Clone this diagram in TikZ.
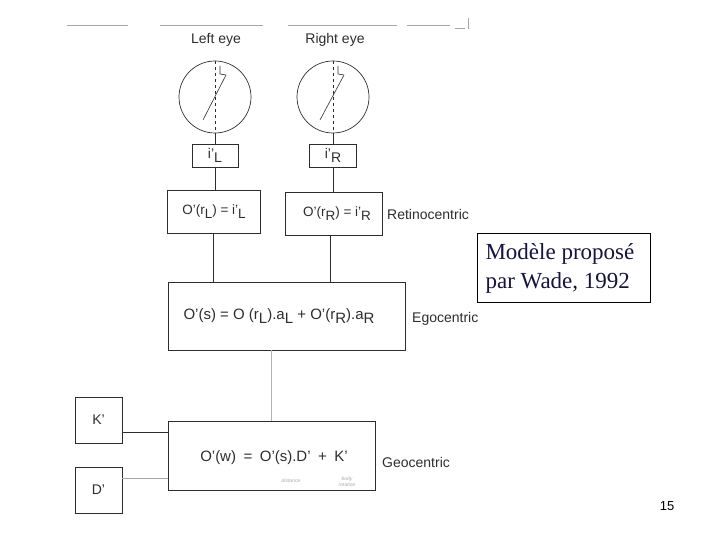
\documentclass[tikz,border=0pt]{standalone}
\usepackage{fontspec}
\setmainfont{Liberation Sans}
\newfontfamily\tnr{Liberation Serif}
\definecolor{ink}{RGB}{45,45,45}
\definecolor{navy}{RGB}{20,20,60}
\newcommand{\lowsub}[1]{\raisebox{-0.55ex}{#1}}
\begin{document}
\begin{tikzpicture}[x=1pt,y=-1pt,
  every node/.style={font=\fontsize{14}{16}\selectfont, text=ink},
  boxnode/.style={draw=ink, line width=0.8pt, rectangle, inner sep=0pt},
  eyecircle/.style={draw=ink, line width=0.7pt, circle, inner sep=0pt, minimum size=72pt},
  link/.style={draw=ink, line width=0.8pt},
  scanline/.style={draw=gray!70, line width=0.7pt},
  biglabel/.style={font=\fontsize{15}{17}\selectfont},
  retlabel/.style={font=\fontsize{13.5}{16}\selectfont},
  note/.style={font=\fontsize{5}{6}\itshape\selectfont, text=gray!70}]
\useasboundingbox (0,0) rectangle (720,540);

% scan artefacts at top
\draw[scanline] (67,25) -- (128,25);
\draw[scanline] (160,25) -- (263,25);
\draw[scanline] (288,25) -- (397,25);
\draw[scanline] (407,25) -- (450,25);
\draw[scanline] (455,28) -- (465,28);
\draw[scanline] (468,18) -- (468,29);

% eye labels
\node (lefteye) at (216,40) {Left eye};
\node (righteye) at (335,40) {Right eye};

% eyes
\node[eyecircle] (cL) at (215,97) {};
\node[eyecircle] (cR) at (333,97) {};
\draw[ink, line width=0.6pt, dashed] (cL.north) -- (cL.south);
\draw[ink, line width=0.6pt, dashed] (cR.north) -- (cR.south);
\draw[ink, line width=0.6pt] (226,75) -- (203,120);
\draw[ink, line width=0.6pt] (220,66) -- (220,74) -- (226,75);
\draw[ink, line width=0.6pt] (344,75) -- (320,120);
\draw[ink, line width=0.6pt] (338,66) -- (338,74) -- (344,75);

% image boxes
\node[boxnode, minimum width=46pt, minimum height=23pt] (iL) at (215,155.5) {i'\lowsub{L}};
\node[boxnode, minimum width=47pt, minimum height=23pt] (iR) at (333,155.5) {i'\lowsub{R}};

% retinocentric
\node[boxnode, minimum width=93pt, minimum height=43pt] (rL) at (213.5,211.5) {};
\node[retlabel] (rLtext) at (214,212) {O'(r\lowsub{L}) = i'\lowsub{L}};
\node[boxnode, minimum width=97pt, minimum height=43pt] (rR) at (333.5,213.5) {};
\node[retlabel] (rRtext) at (337,214) {O'(r\lowsub{R}) = i'\lowsub{R}};
\node[anchor=west, inner sep=0pt] (retino) at (387,214) {Retinocentric};

% egocentric
\node[boxnode, minimum width=237pt, minimum height=68pt] (eg) at (286.5,316) {};
\node[biglabel] (egtext) at (279,316) {O'(s) = O (r\lowsub{L}).a\lowsub{L} + O'(r\lowsub{R}).a\lowsub{R}};
\node[anchor=west, inner sep=0pt] (ego) at (412,319) {Egocentric};

% geocentric
\node[boxnode, minimum width=207pt, minimum height=69pt] (geo) at (271.5,455.5) {};
\node[biglabel] (geotext) at (274,458) {O'(w)\enspace=\enspace O'(s).D'\enspace+\enspace K'};
\node[anchor=west, inner sep=0pt] (geolab) at (382,462) {Geocentric};
\node[note] (n1) at (291,481) {distance};
\node[note, align=center] (n2) at (347,482) {body\\rotation};

% K' and D'
\node[boxnode, minimum width=47pt, minimum height=46pt] (K) at (98.5,420) {K'};
\node[boxnode, minimum width=47pt, minimum height=46pt] (D) at (98.5,490) {D'};

% connectors
\draw[link] (cL.south) -- (cL.south |- iL.north);
\draw[link] (cR.south) -- (cR.south |- iR.north);
\draw[link] (iL.south) -- (iL.south |- rL.north);
\draw[link] (iR.south) -- (iR.south |- rR.north);
\draw[link] (rL.south) -- (rL.south |- eg.north);
\coordinate (rRbot) at ([xshift=-3pt]rR.south);
\draw[link] (rRbot) -- (rRbot |- eg.north);
\draw[link, draw=gray!60] (geo.north |- eg.south) -- (geo.north);
\coordinate (kl) at ([yshift=-12pt]K.east);
\coordinate (dl) at ([yshift=12pt]D.east);
\draw[link] (kl) -- (kl -| geo.west);
\draw[link, draw=gray!70] (dl) -- (dl -| geo.west);

% note box
\node[draw=black, line width=0.7pt, rectangle, minimum width=173pt, minimum height=69pt, inner sep=0pt] (wade) at (563.5,267.5) {};
\node[anchor=west, align=left, text=navy, font=\tnr\fontsize{23}{29}\selectfont] (wadetext) at (482,268) {Modèle proposé\\par Wade, 1992};

% page number
\node[text=black, font=\fontsize{13}{15}\selectfont] (page) at (667,506) {15};
\end{tikzpicture}
\end{document}
